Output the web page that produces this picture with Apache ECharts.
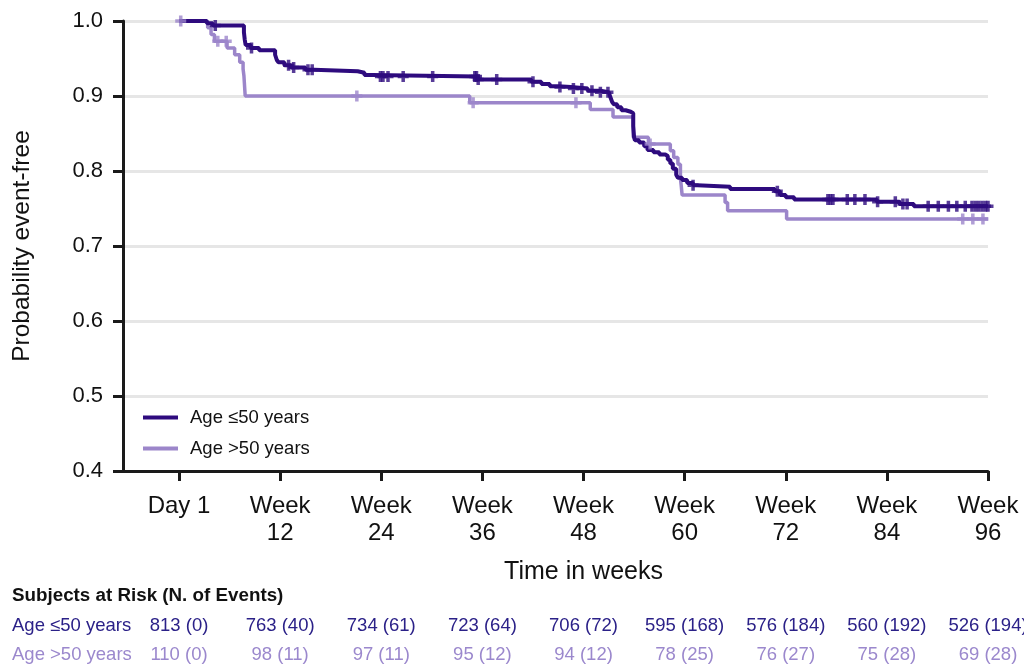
<!DOCTYPE html>
<html>
<head>
<meta charset="utf-8">
<script src="https://cdn.jsdelivr.net/npm/echarts@6/dist/echarts.min.js"></script>
<style>
html,body{margin:0;padding:0;background:#fff;}
#chart{width:1024px;height:666px;}
</style>
</head>
<body>
<div id="chart"></div>
<script>
// ---- Data ----
const seriesNames = ['Age \u226450 years', 'Age >50 years'];

const darkTime = [0, 3.3, 4.0, 7.7, 7.8, 7.9, 8.5, 9.5, 11.4, 11.6, 11.8, 12.5, 13.3, 15.0, 16.0, 21.2, 22.0, 23.0, 35.4, 41.8, 43.0, 44.0, 45.0, 46.5, 48.5, 50.0, 51.0, 51.2, 51.4, 51.6, 52.0, 52.5, 53.0, 53.6, 53.9, 54.0, 54.1, 54.6, 55.2, 55.6, 56.3, 57.0, 57.7, 58.0, 58.3, 58.6, 59.0, 59.2, 59.7, 60.3, 61.0, 61.5, 65.4, 70.7, 71.3, 72.0, 73.0, 82.8, 85.5, 87.2, 96];
const darkSurv = [1.0, 0.997, 0.994, 0.985, 0.975, 0.968, 0.964, 0.961, 0.955, 0.948, 0.945, 0.941, 0.938, 0.935, 0.933, 0.931, 0.928, 0.926, 0.922, 0.919, 0.916, 0.913, 0.912, 0.910, 0.907, 0.905, 0.903, 0.898, 0.892, 0.889, 0.885, 0.881, 0.879, 0.877, 0.860, 0.845, 0.841, 0.838, 0.833, 0.828, 0.825, 0.822, 0.820, 0.815, 0.810, 0.803, 0.795, 0.791, 0.788, 0.784, 0.781, 0.779, 0.776, 0.773, 0.768, 0.765, 0.762, 0.759, 0.756, 0.753, 0.753];

const lightTime = [0, 3.4, 3.8, 4.2, 5.7, 6.6, 7.2, 7.6, 7.7, 7.75, 7.8, 7.85, 34.5, 48.8, 51.5, 53.9, 55.7, 58.3, 58.7, 59.2, 59.5, 59.6, 59.7, 64.8, 65.1, 72.1, 96];
const lightSurv = [1.0, 0.991, 0.982, 0.973, 0.964, 0.955, 0.945, 0.936, 0.927, 0.918, 0.909, 0.900, 0.891, 0.882, 0.872, 0.845, 0.836, 0.827, 0.818, 0.809, 0.790, 0.780, 0.768, 0.758, 0.747, 0.736, 0.736];

const darkCensor = [4.3, 8.6, 13.0, 13.6, 15.3, 15.8, 23.9, 24.2, 24.8, 26.6, 30.1, 35.1, 35.3, 35.5, 37.7, 42.0, 45.2, 46.8, 47.8, 49.0, 50.0, 50.9, 61.0, 71.0, 77.0, 77.3, 77.6, 79.3, 80.2, 81.4, 82.9, 85.0, 85.9, 86.4, 88.9, 90.1, 91.3, 92.3, 93.3, 94.1, 94.5, 94.9, 95.3, 95.7, 96.0];
const lightCensor = [0.2, 4.6, 5.6, 21.1, 34.9, 47.1, 55.9, 93.0, 94.2, 95.4];

const xTicks = [0, 12, 24, 36, 48, 60, 72, 84, 96];
const xTickLabels = ['Day 1', 'Week\n12', 'Week\n24', 'Week\n36', 'Week\n48', 'Week\n60', 'Week\n72', 'Week\n84', 'Week\n96'];

const riskTitle = 'Subjects at Risk (N. of Events)';
const riskRowLabels = ['Age \u226450 years', 'Age >50 years'];
const riskDark = ['813 (0)', '763 (40)', '734 (61)', '723 (64)', '706 (72)', '595 (168)', '576 (184)', '560 (192)', '526 (194)'];
const riskLight = ['110 (0)', '98 (11)', '97 (11)', '95 (12)', '94 (12)', '78 (25)', '76 (27)', '75 (28)', '69 (28)'];

// ---- Styles ----
const FONT = "'Liberation Sans', Arial, sans-serif";
const DARK = '#2e0b7e';
const LIGHT = '#9c86ca';
const DARK_TXT = '#2b2188';
const LIGHT_TXT = '#9b88cd';
const AXIS = '#1a1a1a';
const PLUS = 'path://M3.4,0H6.6V3.4H10V6.6H6.6V10H3.4V6.6H0V3.4H3.4Z';

function zip(t, s) { return t.map((v, i) => [v, s[i]]); }
function stepAt(t, s, x) {
  let k = 0;
  for (let i = 0; i < t.length; i++) { if (t[i] <= x) k = i; }
  return s[k];
}

const chart = echarts.init(document.getElementById('chart'), null, {renderer: 'canvas'});

const option = {
  animation: false,
  backgroundColor: '#fff',
  grid: {left: 123, right: 36, top: 21, bottom: 195, containLabel: false, outerBoundsMode: 'none'},
  legend: {
    orient: 'vertical', left: 138, top: 403,
    itemWidth: 35, itemHeight: 4, itemGap: 12, icon: 'rect',
    textStyle: {fontSize: 18.5, color: '#111', fontFamily: FONT, padding: [0, 0, 0, 7]},
    data: seriesNames
  },
  xAxis: {
    type: 'value', min: -6.65, max: 96,
    axisLine: {show: true, onZero: false, lineStyle: {color: AXIS, width: 3}},
    axisTick: {show: true, customValues: xTicks, length: 10, lineStyle: {color: AXIS, width: 3}},
    axisLabel: {
      customValues: xTicks,
      formatter: function (v) { const i = xTicks.indexOf(v); return i >= 0 ? xTickLabels[i] : ''; },
      fontSize: 24, color: '#111', lineHeight: 27, margin: 22, fontFamily: FONT
    },
    splitLine: {show: false}
  },
  yAxis: {
    type: 'value', min: 0.4, max: 1.0, interval: 0.1,
    name: 'Probability event-free', nameLocation: 'middle', nameGap: 88,
    nameTextStyle: {fontSize: 24.5, color: '#111', fontFamily: FONT},
    axisLine: {show: true, onZero: false, lineStyle: {color: AXIS, width: 3}},
    axisTick: {show: true, length: 10, lineStyle: {color: AXIS, width: 3}},
    axisLabel: {formatter: function (v) { return v.toFixed(1); }, fontSize: 22, color: '#111', margin: 20, fontFamily: FONT},
    splitLine: {show: true, lineStyle: {color: '#e6e6e6', width: 3}}
  },
  series: [
    {
      name: seriesNames[1], type: 'line', step: 'end', data: zip(lightTime, lightSurv),
      showSymbol: false, symbol: 'none', lineStyle: {color: LIGHT, width: 3.5}, itemStyle: {color: LIGHT}, z: 2, silent: true
    },
    {
      name: seriesNames[0], type: 'line', step: 'end', data: zip(darkTime, darkSurv),
      showSymbol: false, symbol: 'none', lineStyle: {color: DARK, width: 4}, itemStyle: {color: DARK}, z: 3, silent: true
    },
    {
      name: 'censor-dark', type: 'scatter', symbol: PLUS, symbolSize: 11, clip: false,
      data: darkCensor.map(t => [t, stepAt(darkTime, darkSurv, t)]),
      itemStyle: {color: DARK}, z: 4, silent: true
    },
    {
      name: 'censor-light', type: 'scatter', symbol: PLUS, symbolSize: 11, clip: false,
      data: lightCensor.map(t => [t, stepAt(lightTime, lightSurv, t)]),
      itemStyle: {color: LIGHT}, z: 5, silent: true
    }
  ]
};

chart.setOption(option);

// ---- Risk table and x-axis title placed through the axis scale ----
const xs = xTicks.map(w => chart.convertToPixel({xAxisIndex: 0}, w));
const midX = chart.convertToPixel({xAxisIndex: 0}, (xTicks[0] + xTicks[xTicks.length - 1]) / 2);
const graphics = [];
graphics.push({type: 'text', x: midX, y: 572, style: {text: 'Time in weeks', fontSize: 25, fill: '#111', fontFamily: FONT, align: 'center', verticalAlign: 'middle'}});
graphics.push({type: 'text', x: 12, y: 596, style: {text: riskTitle, fontSize: 18.8, fontWeight: 'bold', fill: '#111', fontFamily: FONT, align: 'left', verticalAlign: 'middle'}});
graphics.push({type: 'text', x: 12, y: 626, style: {text: riskRowLabels[0], fontSize: 18.5, fill: DARK_TXT, fontFamily: FONT, align: 'left', verticalAlign: 'middle'}});
graphics.push({type: 'text', x: 12, y: 655, style: {text: riskRowLabels[1], fontSize: 18.5, fill: LIGHT_TXT, fontFamily: FONT, align: 'left', verticalAlign: 'middle'}});
riskDark.forEach((s, i) => {
  graphics.push({type: 'text', x: xs[i], y: 626, style: {text: s, fontSize: 18.5, fill: DARK_TXT, fontFamily: FONT, align: 'center', verticalAlign: 'middle'}});
});
riskLight.forEach((s, i) => {
  graphics.push({type: 'text', x: xs[i], y: 655, style: {text: s, fontSize: 18.5, fill: LIGHT_TXT, fontFamily: FONT, align: 'center', verticalAlign: 'middle'}});
});
chart.setOption({graphic: graphics});
</script>
</body>
</html>
